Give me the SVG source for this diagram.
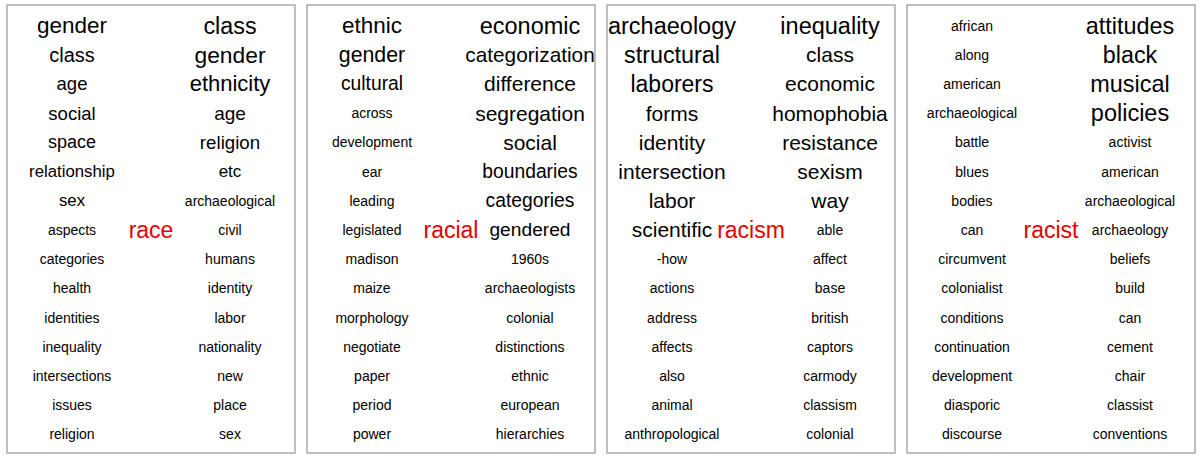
<svg xmlns="http://www.w3.org/2000/svg" width="1200" height="461" viewBox="0 0 1200 461">
<style>
.frame{fill:#fff;stroke:#aaa;stroke-width:1.5}
text{font-family:"Liberation Sans",Arial,sans-serif;text-anchor:middle;dominant-baseline:central;fill:#000;font-size:14px}
.c{fill:#e60000;font-size:23px}
</style>
<rect width="1200" height="461" fill="#fff"/>
<g id="panel-race">
<rect class="frame" x="7" y="5" width="288" height="448"/>
<g transform="translate(0,0.8)">
<text x="72" y="24.8" style="font-size:22.5px">gender</text>
<text x="72" y="54" style="font-size:20px">class</text>
<text x="72" y="83.2" style="font-size:18.5px">age</text>
<text x="72" y="112.4" style="font-size:18.5px">social</text>
<text x="72" y="141.6" style="font-size:18px">space</text>
<text x="72" y="170.8" style="font-size:16.8px">relationship</text>
<text x="72" y="200" style="font-size:16.8px">sex</text>
<text x="72" y="229.2">aspects</text>
<text x="72" y="258.4">categories</text>
<text x="72" y="287.6">health</text>
<text x="72" y="316.8">identities</text>
<text x="72" y="346">inequality</text>
<text x="72" y="375.2">intersections</text>
<text x="72" y="404.4">issues</text>
<text x="72" y="433.6">religion</text>
<text x="230" y="24.8" style="font-size:23.3px">class</text>
<text x="230" y="54" style="font-size:22.8px">gender</text>
<text x="230" y="83.2" style="font-size:22px">ethnicity</text>
<text x="230" y="112.4" style="font-size:19px">age</text>
<text x="230" y="141.6" style="font-size:18.7px">religion</text>
<text x="230" y="170.8" style="font-size:17px">etc</text>
<text x="230" y="200">archaeological</text>
<text x="230" y="229.2">civil</text>
<text x="230" y="258.4">humans</text>
<text x="230" y="287.6">identity</text>
<text x="230" y="316.8">labor</text>
<text x="230" y="346">nationality</text>
<text x="230" y="375.2">new</text>
<text x="230" y="404.4">place</text>
<text x="230" y="433.6">sex</text>
<text class="c" x="151" y="229.2">race</text>
</g>
</g>
<g id="panel-racial">
<rect class="frame" x="307" y="5" width="288" height="448"/>
<g transform="translate(0,0.8)">
<text x="372" y="24.8" style="font-size:22.5px">ethnic</text>
<text x="372" y="54" style="font-size:21.3px">gender</text>
<text x="372" y="83.2" style="font-size:19.3px">cultural</text>
<text x="372" y="112.4">across</text>
<text x="372" y="141.6">development</text>
<text x="372" y="170.8">ear</text>
<text x="372" y="200">leading</text>
<text x="372" y="229.2">legislated</text>
<text x="372" y="258.4">madison</text>
<text x="372" y="287.6">maize</text>
<text x="372" y="316.8">morphology</text>
<text x="372" y="346">negotiate</text>
<text x="372" y="375.2">paper</text>
<text x="372" y="404.4">period</text>
<text x="372" y="433.6">power</text>
<text x="530" y="24.8" style="font-size:23.5px">economic</text>
<text x="530" y="54" style="font-size:20.8px">categorization</text>
<text x="530" y="83.2" style="font-size:21px">difference</text>
<text x="530" y="112.4" style="font-size:21px">segregation</text>
<text x="530" y="141.6" style="font-size:21px">social</text>
<text x="530" y="170.8" style="font-size:19.3px">boundaries</text>
<text x="530" y="200" style="font-size:19.3px">categories</text>
<text x="530" y="229.2" style="font-size:19.2px">gendered</text>
<text x="530" y="258.4">1960s</text>
<text x="530" y="287.6">archaeologists</text>
<text x="530" y="316.8">colonial</text>
<text x="530" y="346">distinctions</text>
<text x="530" y="375.2">ethnic</text>
<text x="530" y="404.4">european</text>
<text x="530" y="433.6">hierarchies</text>
<text class="c" x="451" y="229.2">racial</text>
</g>
</g>
<g id="panel-racism">
<rect class="frame" x="607" y="5" width="288" height="448"/>
<g transform="translate(0,0.8)">
<text x="672" y="24.8" style="font-size:23.5px">archaeology</text>
<text x="672" y="54" style="font-size:23.3px">structural</text>
<text x="672" y="83.2" style="font-size:23px">laborers</text>
<text x="672" y="112.4" style="font-size:21px">forms</text>
<text x="672" y="141.6" style="font-size:21px">identity</text>
<text x="672" y="170.8" style="font-size:21px">intersection</text>
<text x="672" y="200" style="font-size:21px">labor</text>
<text x="672" y="229.2" style="font-size:21px">scientific</text>
<text x="672" y="258.4">-how</text>
<text x="672" y="287.6">actions</text>
<text x="672" y="316.8">address</text>
<text x="672" y="346">affects</text>
<text x="672" y="375.2">also</text>
<text x="672" y="404.4">animal</text>
<text x="672" y="433.6">anthropological</text>
<text x="830" y="24.8" style="font-size:23.5px">inequality</text>
<text x="830" y="54" style="font-size:21px">class</text>
<text x="830" y="83.2" style="font-size:21px">economic</text>
<text x="830" y="112.4" style="font-size:21px">homophobia</text>
<text x="830" y="141.6" style="font-size:21px">resistance</text>
<text x="830" y="170.8" style="font-size:21px">sexism</text>
<text x="830" y="200" style="font-size:21px">way</text>
<text x="830" y="229.2">able</text>
<text x="830" y="258.4">affect</text>
<text x="830" y="287.6">base</text>
<text x="830" y="316.8">british</text>
<text x="830" y="346">captors</text>
<text x="830" y="375.2">carmody</text>
<text x="830" y="404.4">classism</text>
<text x="830" y="433.6">colonial</text>
<text class="c" x="751" y="229.2">racism</text>
</g>
</g>
<g id="panel-racist">
<rect class="frame" x="907" y="5" width="288" height="448"/>
<g transform="translate(0,0.8)">
<text x="972" y="24.8">african</text>
<text x="972" y="54">along</text>
<text x="972" y="83.2">american</text>
<text x="972" y="112.4">archaeological</text>
<text x="972" y="141.6">battle</text>
<text x="972" y="170.8">blues</text>
<text x="972" y="200">bodies</text>
<text x="972" y="229.2">can</text>
<text x="972" y="258.4">circumvent</text>
<text x="972" y="287.6">colonialist</text>
<text x="972" y="316.8">conditions</text>
<text x="972" y="346">continuation</text>
<text x="972" y="375.2">development</text>
<text x="972" y="404.4">diasporic</text>
<text x="972" y="433.6">discourse</text>
<text x="1130" y="24.8" style="font-size:23.4px">attitudes</text>
<text x="1130" y="54" style="font-size:23.3px">black</text>
<text x="1130" y="83.2" style="font-size:23.4px">musical</text>
<text x="1130" y="112.4" style="font-size:23.5px">policies</text>
<text x="1130" y="141.6">activist</text>
<text x="1130" y="170.8">american</text>
<text x="1130" y="200">archaeological</text>
<text x="1130" y="229.2">archaeology</text>
<text x="1130" y="258.4">beliefs</text>
<text x="1130" y="287.6">build</text>
<text x="1130" y="316.8">can</text>
<text x="1130" y="346">cement</text>
<text x="1130" y="375.2">chair</text>
<text x="1130" y="404.4">classist</text>
<text x="1130" y="433.6">conventions</text>
<text class="c" x="1051" y="229.2">racist</text>
</g>
</g>
</svg>
